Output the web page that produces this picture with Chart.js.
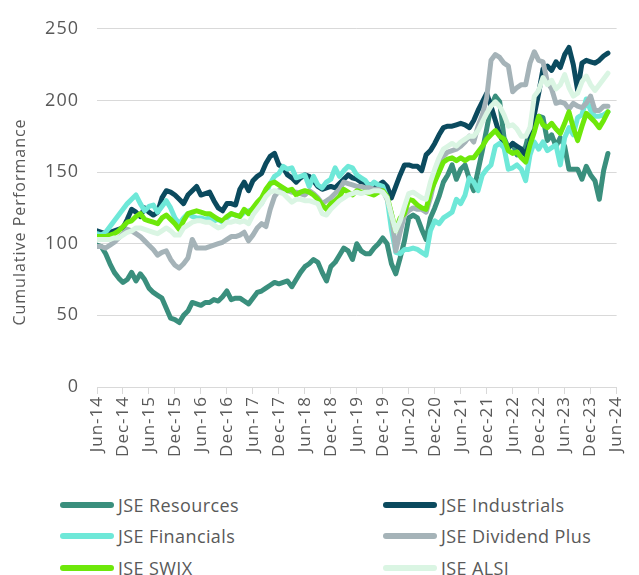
<!DOCTYPE html>
<html>
<head>
<meta charset="utf-8">
<script src="https://cdn.jsdelivr.net/npm/chart.js@4/dist/chart.umd.min.js"></script>
<style>
  body { margin: 0; background: #fff; font-family: "Open Sans", Lato, sans-serif; }
  #wrap { position: relative; width: 639px; height: 575px; }
  #legend { position: absolute; left: 60px; top: 489px; display: grid;
    grid-template-columns: 323px 220px; grid-auto-rows: 31.5px; }
  .item { display: flex; align-items: center; color: #595959; font-size: 18px; letter-spacing: 0.4px; }
  .swatch { width: 54px; height: 6px; border-radius: 3px; margin-right: 4px; }
</style>
</head>
<body>
<div id="wrap">
  <canvas id="perfChart" width="639" height="470"></canvas>
  <div id="legend"></div>
</div>
<script>
// tick labels every 6 months, Jun-14 .. Jun-24
const tickLabels = ["Jun-14","Dec-14","Jun-15","Dec-15","Jun-16","Dec-16","Jun-17","Dec-17",
  "Jun-18","Dec-18","Jun-19","Dec-19","Jun-20","Dec-20","Jun-21","Dec-21","Jun-22","Dec-22",
  "Jun-23","Dec-23","Jun-24"];

// monthly values, Jun-14 .. Apr-24
const resources = [99,98,93,86,80,76,73,75,80,74,79,75,69,66,64,62,55,48,47,45,
  50,53,59,58,57,59,59,61,60,63,67,61,62,62,60,58,62,66,67,69,
  71,73,72,73,74,70,75,80,84,86,89,87,80,74,84,87,92,97,95,89,
  100,95,93,93,97,100,104,100,86,79,90,102,118,120,118,110,103,118,125,133,
  143,148,155,145,152,155,145,137,151,165,180,196,203,199,174,167,170,162,163,168,
  180,187,189,188,172,176,168,174,168,152,152,152,145,154,148,144,131,151,163];
const industrials = [109,108,107,108,109,110,111,117,124,122,119,125,122,120,122,132,137,136,134,131,
  128,134,137,140,134,135,136,130,125,123,128,128,127,138,143,137,144,147,149,156,
  161,163,155,153,148,146,143,146,148,147,144,140,138,139,140,139,142,145,148,146,
  145,143,142,141,140,141,143,140,132,140,148,155,155,154,154,151,162,165,170,176,
  181,182,182,183,184,183,181,186,193,199,205,196,186,176,170,167,170,168,166,162,
  171,190,205,222,224,221,227,223,232,237,225,207,226,228,227,226,228,231,233];
const financials = [107,106,108,112,116,120,124,128,131,134,128,123,126,127,122,126,130,125,118,114,
  118,121,119,118,118,117,118,116,117,115,118,121,120,119,122,123,124,126,128,135,
  142,147,149,154,152,153,146,147,148,140,147,141,139,143,145,153,147,151,154,153,
  148,146,144,140,143,141,140,132,110,94,93,96,96,97,96,94,92,109,116,114,
  118,120,122,131,128,134,146,143,137,148,152,155,168,170,167,152,153,155,152,144,
  162,171,166,171,165,167,169,155,174,181,176,188,190,201,193,189,189,190,192];
const dividendPlus = [98,98,97,99,101,104,107,110,109,107,105,102,99,96,92,94,95,89,85,83,
  86,90,103,97,97,97,98,99,100,101,103,105,105,106,108,102,106,111,114,112,
  124,133,137,138,137,136,136,135,134,137,135,132,128,130,132,135,138,143,142,141,
  140,140,139,139,138,138,137,131,121,95,108,120,123,125,124,124,122,132,145,154,
  161,164,165,166,168,171,175,171,182,190,202,228,232,230,226,224,206,209,211,211,
  226,234,228,227,213,208,198,199,198,194,198,196,195,198,203,193,193,196,196];
const swix = [105,105,105,106,107,109,112,115,116,119,121,117,116,115,114,118,120,117,114,110,
  116,121,122,123,122,121,121,119,117,116,119,121,120,119,124,121,125,129,132,138,
  142,143,141,139,137,138,134,136,137,136,134,131,127,124,128,130,133,138,136,134,
  137,136,136,135,134,136,137,133,121,109,118,121,131,130,127,125,124,136,143,150,
  157,159,160,158,160,158,160,160,164,168,173,176,179,175,173,165,163,164,160,157,
  169,178,189,183,181,184,180,177,184,192,181,172,182,191,188,185,181,186,192];
const alsi = [103,103,103,103,104,104,106,108,109,111,111,110,109,108,107,109,111,109,106,106,
  111,113,115,116,116,115,115,113,111,112,115,115,116,115,116,114,120,124,128,133,
  136,137,136,135,132,129,131,131,130,130,129,128,121,120,124,127,130,132,134,135,
  136,135,136,136,137,137,136,132,120,109,116,126,135,136,134,132,131,143,152,160,
  166,168,170,168,171,173,175,175,179,185,191,196,199,196,190,182,183,180,175,175,
  181,203,207,216,211,214,208,211,218,209,203,205,213,217,211,207,211,215,219];

const seriesNames = ["JSE Resources","JSE Industrials","JSE Financials","JSE Dividend Plus","JSE SWIX","JSE ALSI"];
const seriesData = [resources, industrials, financials, dividendPlus, swix, alsi];
const seriesColors = ["#3a8f7d","#0b4a5e","#6ee8d8","#a5b3b8","#6ee80a","#daf5e3"];
const yTitle = "Cumulative Performance";

const textColor = "#595959";
const gridColor = "#d9d9d9";
const fontFamily = "'Open Sans', Lato, sans-serif";

const datasets = seriesNames.map((name, i) => ({
  label: name,
  data: seriesData[i].map((v, m) => ({ x: m, y: v })),
  borderColor: seriesColors[i],
  backgroundColor: seriesColors[i],
  borderWidth: 5,
  pointRadius: 0,
  tension: 0,
  borderJoinStyle: "round",
  borderCapStyle: "round",
  order: seriesNames.length - i,
}));

// the original text is letter-spaced a little; the y title sits a bit low
const spacedText = {
  id: "spacedText",
  beforeDraw: (chart) => { chart.ctx.letterSpacing = "1px"; },
  afterDraw: (chart) => {
    const c = chart.ctx;
    c.save();
    c.translate(20, 222);
    c.rotate(-Math.PI / 2);
    c.font = "16px " + fontFamily;
    c.fillStyle = textColor;
    c.textAlign = "center";
    c.textBaseline = "middle";
    c.fillText(yTitle, 0, 0);
    c.restore();
  },
};

const ctx = document.getElementById("perfChart").getContext("2d");
new Chart(ctx, {
  type: "line",
  data: { datasets },
  plugins: [spacedText],
  options: {
    responsive: false,
    animation: false,
    layout: { padding: { top: 27, right: 8, left: 0, bottom: 0 } },
    plugins: { legend: { display: false }, tooltip: { enabled: false } },
    scales: {
      x: {
        type: "linear",
        min: 0,
        max: 120,
        afterFit: (scale) => { scale.height = 83; },
        grid: { drawOnChartArea: false, drawTicks: true, tickLength: 7, color: gridColor },
        border: { color: gridColor, width: 1 },
        ticks: {
          stepSize: 6,
          autoSkip: false,
          maxRotation: 90,
          minRotation: 90,
          padding: 2,
          color: textColor,
          font: { family: fontFamily, size: 17 },
          callback: (v) => tickLabels[v / 6],
        },
      },
      y: {
        min: 0,
        max: 250,
        afterFit: (scale) => { scale.width = 97; },
        grid: { color: gridColor, drawTicks: false },
        border: { display: false },
        ticks: {
          stepSize: 50,
          padding: 18,
          color: textColor,
          font: { family: fontFamily, size: 18 },
        },
      },
    },
  },
});

const legend = document.getElementById("legend");
seriesNames.forEach((name, i) => {
  const item = document.createElement("div");
  item.className = "item";
  item.innerHTML = '<span class="swatch" style="background:' + seriesColors[i] + '"></span>' + name;
  legend.appendChild(item);
});
</script>
</body>
</html>
